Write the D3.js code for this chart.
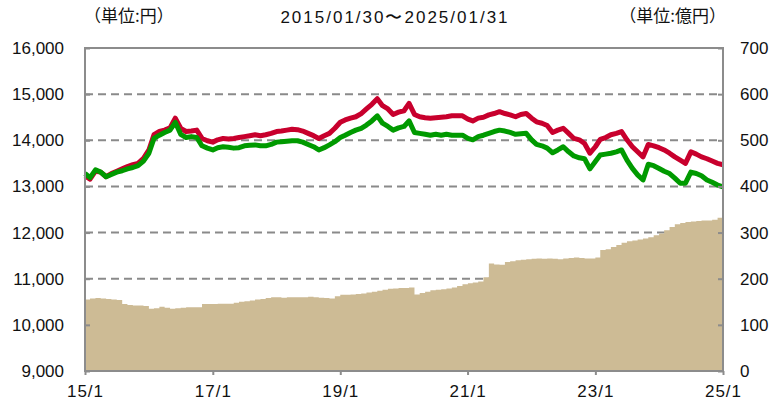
<!DOCTYPE html>
<html>
<head>
<meta charset="utf-8">
<title>基準価額・純資産総額の推移</title>
<script src="https://d3js.org/d3.v7.min.js"></script>
<style>
  body { margin: 0; background: #fff; }
  text { font-family: "Liberation Sans", Arial, sans-serif; fill: #111; }
  .jp { font-family: "Noto Sans CJK JP", sans-serif; }
</style>
</head>
<body>
<svg id="chart" width="782" height="406"></svg>
<script>
// monthly values, 2015/01 .. 2025/01 (121 points)
const navReinvested = [
  13230,13160,13330,13310,13210,13280,13330,13380,13430,13470,13500,13610,
  13790,14120,14190,14220,14270,14480,14260,14190,14200,14220,14040,13990,
  13960,14010,14040,14030,14040,14060,14080,14100,14120,14100,14120,14150,
  14190,14200,14220,14240,14230,14200,14150,14100,14040,14100,14150,14260,
  14390,14440,14480,14510,14580,14680,14780,14900,14750,14680,14560,14610,
  14640,14800,14560,14510,14490,14480,14490,14500,14510,14530,14530,14530,
  14460,14420,14480,14500,14550,14580,14620,14580,14550,14510,14560,14580,
  14480,14400,14370,14320,14170,14220,14260,14150,14040,14010,13930,13720,
  13860,14020,14060,14120,14150,14190,14010,13860,13750,13640,13910,13880,
  13840,13790,13720,13640,13570,13500,13750,13700,13640,13600,13550,13500,
  13470
];
const nav = [
  13280,13190,13360,13310,13210,13260,13310,13340,13380,13410,13450,13550,
  13720,14040,14110,14170,14220,14390,14130,14060,14080,14060,13880,13830,
  13790,13840,13860,13850,13830,13840,13880,13890,13900,13880,13880,13910,
  13960,13970,13980,13990,13990,13960,13910,13860,13790,13840,13900,13970,
  14060,14110,14170,14220,14260,14330,14420,14530,14370,14300,14220,14270,
  14300,14420,14170,14150,14130,14110,14130,14110,14130,14110,14110,14110,
  14040,14010,14080,14110,14150,14190,14220,14200,14170,14130,14140,14150,
  14010,13910,13880,13830,13730,13790,13860,13750,13660,13620,13600,13380,
  13540,13680,13700,13720,13750,13790,13570,13390,13250,13140,13480,13450,
  13390,13330,13280,13180,13070,13070,13310,13280,13230,13140,13090,13030,
  12990
];
const netAssets = [
  155,157,158,157,156,155,154,145,143,142,142,141,
  135,136,139,137,135,136,137,138,138,138,145,145,
  145,146,146,146,148,150,151,153,155,156,158,160,
  160,159,160,160,160,160,161,160,159,158,157,162,
  165,165,166,167,168,170,172,174,176,178,179,180,
  180,181,166,169,172,175,176,177,179,181,184,188,
  190,192,194,203,233,231,230,236,238,240,241,242,
  243,244,243,244,243,242,244,245,246,245,244,244,
  246,262,264,269,273,278,281,283,285,287,290,294,
  298,305,312,318,321,323,324,325,326,326,328,332,
  322
];
const leftTicks = [9000, 10000, 11000, 12000, 13000, 14000, 15000, 16000];
const rightTicks = [0, 100, 200, 300, 400, 500, 600, 700];
const xTickLabels = ["15/1", "17/1", "19/1", "21/1", "23/1", "25/1"];
const xTickDates = [new Date(2015,0,30), new Date(2017,0,31), new Date(2019,0,31),
                    new Date(2021,0,29), new Date(2023,0,31), new Date(2025,0,31)];

// month-end dates for each point
const dates = nav.map((d, i) => i === 0 ? new Date(2015,0,30) : new Date(2015, i + 1, 0));

const svg = d3.select("#chart");
const L = 85, R = 723, T = 48, B = 371;

const x = d3.scaleTime().domain([new Date(2015,0,30), new Date(2025,0,31)]).range([L, R]);
const yL = d3.scaleLinear().domain([9000, 16000]).range([B, T]);
const yR = d3.scaleLinear().domain([0, 700]).range([B, T]);

// dashed gridlines
svg.append("g").selectAll("line")
  .data(leftTicks.filter(v => v > 9000 && v < 16000))
  .join("line")
    .attr("x1", L).attr("x2", R)
    .attr("y1", d => yL(d)).attr("y2", d => yL(d))
    .attr("stroke", "#8a8a8a").attr("stroke-width", 2)
    .attr("stroke-dasharray", "8,5");

// net assets area
const area = d3.area()
  .x((d, i) => x(dates[i]))
  .y0(B)
  .y1(d => yR(d))
  .curve(d3.curveStepAfter);
svg.append("path").datum(netAssets)
  .attr("d", area)
  .attr("fill", "#cdbb95");

const line = d3.line()
  .x((d, i) => x(dates[i]))
  .y(d => yL(d));

svg.append("path").datum(navReinvested)
  .attr("d", line).attr("fill", "none")
  .attr("stroke", "#c8002d").attr("stroke-width", 5)
  .attr("stroke-linejoin", "round");
svg.append("path").datum(nav)
  .attr("d", line).attr("fill", "none")
  .attr("stroke", "#009a00").attr("stroke-width", 5)
  .attr("stroke-linejoin", "round");

// frame
svg.append("rect")
  .attr("x", L).attr("y", T).attr("width", R - L).attr("height", B - T)
  .attr("fill", "none").attr("stroke", "#8c8c8c").attr("stroke-width", 2);

// left axis (ticks inward)
const axL = svg.append("g").attr("transform", `translate(${L},0)`)
  .call(d3.axisLeft(yL).tickValues(leftTicks).tickSize(-5).tickPadding(21)
    .tickFormat(d3.format(",")));
axL.select(".domain").remove();
axL.selectAll("line").attr("stroke", "#8c8c8c").attr("stroke-width", 2);
axL.selectAll("text").style("font-size", "17px").attr("fill", "#111");

// right axis (ticks inward)
const axR = svg.append("g").attr("transform", `translate(${R},0)`)
  .call(d3.axisRight(yR).tickValues(rightTicks).tickSize(-5).tickPadding(17));
axR.select(".domain").remove();
axR.selectAll("line").attr("stroke", "#8c8c8c").attr("stroke-width", 2);
axR.selectAll("text").style("font-size", "17px").attr("fill", "#111");

// bottom axis
const axB = svg.append("g").attr("transform", `translate(0,${B})`)
  .call(d3.axisBottom(x).tickValues(xTickDates).tickSize(4).tickPadding(10)
    .tickFormat((d, i) => xTickLabels[i]));
axB.select(".domain").remove();
axB.selectAll("line").attr("stroke", "#8c8c8c").attr("stroke-width", 2);
axB.selectAll("text").style("font-size", "17px").style("letter-spacing", "1px").attr("fill", "#111");

// header texts
svg.append("text").attr("class", "jp")
  .attr("x", 84).attr("y", 22)
  .style("font-size", "17px")
  .text("（単位:円）");
svg.append("text")
  .attr("x", 395).attr("y", 23).attr("text-anchor", "middle")
  .style("font-size", "17px").style("letter-spacing", "2px")
  .text("2015/01/30〜2025/01/31");
svg.append("text").attr("class", "jp")
  .attr("x", 726).attr("y", 22).attr("text-anchor", "end")
  .style("font-size", "17px")
  .text("（単位:億円）");
</script>
</body>
</html>
